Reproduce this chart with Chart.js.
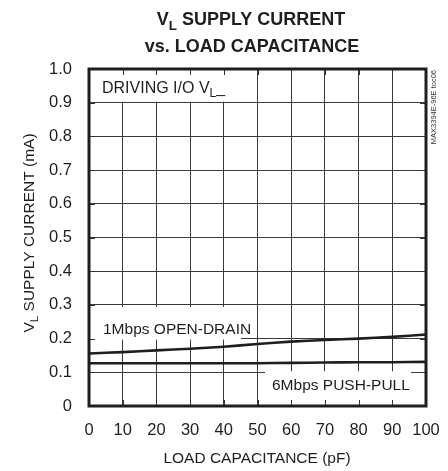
<!DOCTYPE html>
<html>
<head>
<meta charset="utf-8">
<script src="https://cdn.jsdelivr.net/npm/chart.js@4/dist/chart.umd.min.js"></script>
<style>
  html, body { margin: 0; padding: 0; background: #fff; }
  #wrap { width: 448px; height: 471px; position: relative; }
</style>
</head>
<body>
<div id="wrap"><canvas id="chart"></canvas></div>
<script>
// Данные графика: ёмкость нагрузки (пФ) и ток питания VL (мА)
const capacitance = [0, 10, 20, 30, 40, 50, 60, 70, 80, 90, 100];
const openDrain = [0.156, 0.160, 0.165, 0.170, 0.176, 0.184, 0.191, 0.196, 0.200, 0.205, 0.212];
const pushPull = [0.127, 0.127, 0.127, 0.127, 0.127, 0.127, 0.128, 0.129, 0.130, 0.130, 0.131];
const xTicks = [0, 10, 20, 30, 40, 50, 60, 70, 80, 90, 100];
const yTicks = [0, 0.1, 0.2, 0.3, 0.4, 0.5, 0.6, 0.7, 0.8, 0.9, 1.0];

const FONT = '"Liberation Sans", Arial, sans-serif';
const INK = '#1e1e1e';

// Текст с подстрочным индексом: части [текст, подстрочный?]
function drawParts(ctx, parts, x, y, size, bold, align) {
  const weight = bold ? 'bold ' : '';
  let total = 0;
  parts.forEach(p => {
    ctx.font = weight + (p[1] ? size * 0.75 : size) + 'px ' + FONT;
    total += ctx.measureText(p[0]).width;
  });
  let cx = align === 'center' ? x - total / 2 : x;
  ctx.textAlign = 'left';
  ctx.textBaseline = 'alphabetic';
  parts.forEach(p => {
    ctx.font = weight + (p[1] ? size * 0.75 : size) + 'px ' + FONT;
    ctx.fillText(p[0], cx, p[1] ? y + size * 0.28 : y);
    cx += ctx.measureText(p[0]).width;
  });
}

// Белые подложки под надписями поверх сетки
const labelBoxes = {
  id: 'labelBoxes',
  beforeDatasetsDraw(chart) {
    const { ctx, scales: { x, y }, chartArea: a } = chart;
    ctx.save();
    ctx.fillStyle = '#fff';
    // DRIVING I/O VL_
    ctx.fillRect(a.left, a.top, x.getPixelForValue(40) + 8 - a.left, y.getPixelForValue(0.9) - 1 - a.top);
    // 1Mbps OPEN-DRAIN
    const l1 = y.getPixelForValue(0.3) + 2;
    ctx.fillRect(a.left, l1, 152, y.getPixelForValue(0.2) + 1 - l1);
    // 6Mbps PUSH-PULL
    const l2 = y.getPixelForValue(0.1) - 1;
    ctx.fillRect(265, l2, 146, a.bottom - l2);

    // внутренние засечки по всем сторонам
    ctx.strokeStyle = '#333';
    ctx.lineWidth = 1;
    ctx.beginPath();
    xTicks.forEach(v => {
      const px = Math.round(x.getPixelForValue(v)) + 0.5;
      ctx.moveTo(px, a.top); ctx.lineTo(px, a.top + 6);
      ctx.moveTo(px, a.bottom); ctx.lineTo(px, a.bottom - 6);
    });
    yTicks.forEach(v => {
      const py = Math.round(y.getPixelForValue(v)) + 0.5;
      ctx.moveTo(a.left, py); ctx.lineTo(a.left + 6, py);
      ctx.moveTo(a.right, py); ctx.lineTo(a.right - 6, py);
    });
    ctx.stroke();
    ctx.restore();
  },
  afterDraw(chart) {
    const { ctx, chartArea: a } = chart;
    ctx.save();
    // рамка
    ctx.strokeStyle = INK;
    ctx.lineWidth = 3;
    ctx.strokeRect(a.left, a.top, a.right - a.left, a.bottom - a.top);

    ctx.fillStyle = INK;
    // заголовок
    drawParts(ctx, [['V', false], ['L', true], [' SUPPLY CURRENT', false]], 251, 25, 18, true, 'center');
    drawParts(ctx, [['vs. LOAD CAPACITANCE', false]], 252, 52, 18, true, 'center');

    // подписи серий
    drawParts(ctx, [['DRIVING I/O V', false], ['L', true], ['_', false]], 102, 93, 16, false, 'left');
    drawParts(ctx, [['1Mbps OPEN-DRAIN', false]], 103, 334, 15.5, false, 'left');
    drawParts(ctx, [['6Mbps PUSH-PULL', false]], 272, 390, 15.5, false, 'left');

    // подпись оси X
    drawParts(ctx, [['LOAD CAPACITANCE (pF)', false]], 257, 463, 15.5, false, 'center');

    // подпись оси Y (повернутая)
    ctx.translate(34, 233);
    ctx.rotate(-Math.PI / 2);
    drawParts(ctx, [['V', false], ['L', true], [' SUPPLY CURRENT (mA)', false]], 0, 0, 15.5, false, 'center');
    ctx.restore();

    // служебная метка справа
    ctx.save();
    ctx.translate(436, 70);
    ctx.rotate(-Math.PI / 2);
    ctx.fillStyle = '#333';
    ctx.font = '7.5px ' + FONT;
    ctx.textAlign = 'right';
    ctx.textBaseline = 'alphabetic';
    ctx.fillText('MAX3394E-96E toc06', 0, 0);
    ctx.restore();
  }
};

const config = {
  type: 'line',
  data: {
    labels: capacitance,
    datasets: [
      {
        label: '1Mbps OPEN-DRAIN',
        data: capacitance.map((c, i) => ({ x: c, y: openDrain[i] })),
        borderColor: INK,
        borderWidth: 2.6,
        pointRadius: 0,
        tension: 0.3,
        fill: false
      },
      {
        label: '6Mbps PUSH-PULL',
        data: capacitance.map((c, i) => ({ x: c, y: pushPull[i] })),
        borderColor: INK,
        borderWidth: 2.6,
        pointRadius: 0,
        tension: 0.3,
        fill: false
      }
    ]
  },
  options: {
    responsive: false,
    animation: false,
    devicePixelRatio: 1,
    layout: { padding: { top: 69, right: 22, bottom: 0, left: 0 } },
    plugins: {
      legend: { display: false },
      tooltip: { enabled: false },
      title: { display: false }
    },
    scales: {
      x: {
        type: 'linear',
        min: 0,
        max: 100,
        afterBuildTicks: s => { s.ticks = xTicks.map(v => ({ value: v })); },
        afterFit: s => { s.height = 65; s.paddingLeft = 0; s.paddingRight = 0; },
        grid: { color: '#3a3a3a', lineWidth: 1, drawTicks: false },
        border: { display: false },
        ticks: {
          color: INK,
          padding: 15,
          maxRotation: 0,
          font: { family: FONT, size: 16.5 }
        }
      },
      y: {
        type: 'linear',
        min: 0,
        max: 1.0,
        afterBuildTicks: s => { s.ticks = yTicks.map(v => ({ value: v })); },
        afterFit: s => { s.width = 89; s.paddingTop = 0; s.paddingBottom = 0; },
        grid: { color: '#3a3a3a', lineWidth: 1, drawTicks: false },
        border: { display: false },
        ticks: {
          color: INK,
          padding: 17,
          font: { family: FONT, size: 16.5 },
          callback: v => (v === 0 ? '0' : v.toFixed(1))
        }
      }
    }
  },
  plugins: [labelBoxes]
};

const canvas = document.getElementById('chart');
canvas.width = 448;
canvas.height = 471;
new Chart(canvas, config);
</script>
</body>
</html>
